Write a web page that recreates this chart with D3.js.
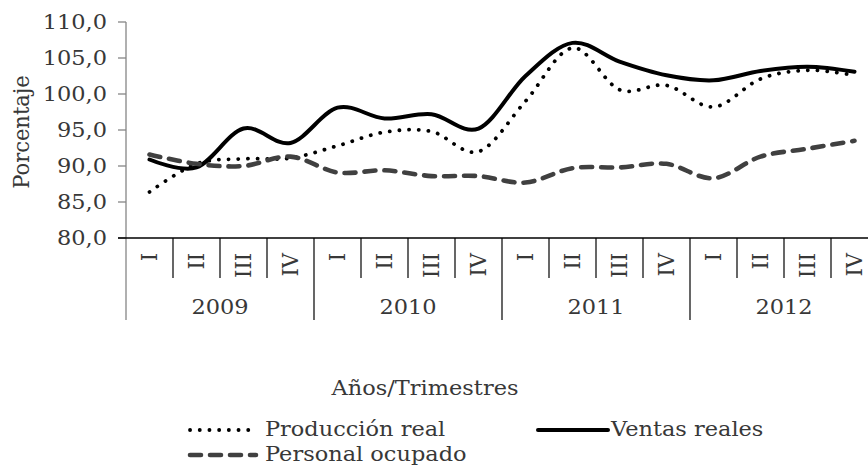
<!DOCTYPE html>
<html>
<head>
<meta charset="utf-8">
<script src="https://cdn.jsdelivr.net/npm/d3@7"></script>
<style>
  body { margin: 0; background: #fff; }
  text { font-family: "DejaVu Serif", serif; fill: #383838; }
</style>
</head>
<body>
<div id="chart"></div>
<script>
var years = ["2009", "2010", "2011", "2012"];
var quarters = ["I", "II", "III", "IV"];
var yTicks = [80, 85, 90, 95, 100, 105, 110];

var produccion = [86.4, 90.3, 91.0, 91.1, 92.8, 94.7, 94.8, 92.0, 99.0, 106.4, 100.6, 101.2, 98.2, 102.1, 103.3, 102.6];
var ventas     = [90.9, 89.8, 95.2, 93.2, 98.1, 96.6, 97.2, 95.2, 102.5, 107.1, 104.5, 102.6, 101.9, 103.2, 103.8, 103.1];
var personal   = [91.6, 90.3, 90.0, 91.3, 89.1, 89.4, 88.6, 88.6, 87.7, 89.7, 89.8, 90.3, 88.3, 91.3, 92.4, 93.5];

var series = [
    {name: "Producción real", values: produccion, color: "#000", width: 3.8, dash: "0.1 9.6"},
    {name: "Ventas reales", values: ventas, color: "#000", width: 4, dash: null},
    {name: "Personal ocupado", values: personal, color: "#404040", width: 4.6, dash: "11 9"}
];

var width = 868, height = 468;
var sx = 1.07; // text in the source is slightly wider than DejaVu Serif
var fs = 21;

var svg = d3.select("#chart").append("svg")
    .attr("width", width)
    .attr("height", height);

// one slot per year/quarter
var slots = [];
years.forEach(function(yr) {
    quarters.forEach(function(q) { slots.push(yr + "-" + q); });
});

var x = d3.scaleBand().domain(slots).range([126, 878]);
var xYear = d3.scaleBand().domain(years).range([126, 878]);
var y = d3.scaleLinear().domain([80, 110]).range([238, 22]);

function label(px, py, txt, anchor, rot) {
    return svg.append("text")
        .attr("transform", "translate(" + px + "," + py + ") scale(" + sx + ",1)" + (rot ? " rotate(-90)" : ""))
        .attr("text-anchor", anchor)
        .style("font-size", fs + "px")
        .text(txt);
}

// y axis
svg.append("line")
    .attr("x1", 126).attr("x2", 126)
    .attr("y1", y(110)).attr("y2", 320)
    .attr("stroke", "#868686").attr("stroke-width", 1.3);

yTicks.forEach(function(t) {
    svg.append("line")
        .attr("x1", 118).attr("x2", 126)
        .attr("y1", y(t)).attr("y2", y(t))
        .attr("stroke", "#868686").attr("stroke-width", 1.3);
    label(107, y(t), d3.format(".1f")(t).replace(".", ","), "end").attr("dy", "0.35em");
});

label(21, (y(110) + y(80)) / 2 + 2, "Porcentaje", "middle", true).attr("dy", "0.35em");

// x axis with two levels of categories
svg.append("line")
    .attr("x1", 118).attr("x2", 878)
    .attr("y1", y(80)).attr("y2", y(80))
    .attr("stroke", "#000").attr("stroke-width", 1.3);

slots.forEach(function(s, i) {
    var x0 = x(s);
    if (i % 4 != 0) {
        svg.append("line")
            .attr("x1", x0).attr("x2", x0)
            .attr("y1", y(80)).attr("y2", 278)
            .attr("stroke", "#000").attr("stroke-width", 1.2);
    }
    label(x0 + x.bandwidth() / 2, 253, quarters[i % 4], "end", true).attr("dy", "0.35em");
});

years.forEach(function(yr, i) {
    var x0 = xYear(yr);
    if (i > 0) {
        svg.append("line")
            .attr("x1", x0).attr("x2", x0)
            .attr("y1", y(80)).attr("y2", 320)
            .attr("stroke", "#000").attr("stroke-width", 1.2);
    }
    label(x0 + xYear.bandwidth() / 2, 314, yr, "middle");
});

label(425, 395, "Años/Trimestres", "middle");

// lines
var line = d3.line()
    .x(function(d, i) { return x(slots[i]) + x.bandwidth() / 2; })
    .y(function(d) { return y(d); })
    .curve(d3.curveCardinal.tension(0));

series.forEach(function(s) {
    svg.append("path")
        .datum(s.values)
        .attr("d", line)
        .attr("fill", "none")
        .attr("stroke", s.color)
        .attr("stroke-width", s.width)
        .attr("stroke-linecap", "round")
        .attr("stroke-dasharray", s.dash);
});

// legend
var legendPos = [[190, 430], [538, 430], [190, 455]];
series.forEach(function(s, i) {
    var p = legendPos[i];
    svg.append("line")
        .attr("x1", p[0]).attr("x2", p[0] + (i == 1 ? 70 : 66))
        .attr("y1", p[1]).attr("y2", p[1])
        .attr("stroke", s.color)
        .attr("stroke-width", s.width)
        .attr("stroke-linecap", "round")
        .attr("stroke-dasharray", s.dash);
    label(p[0] + (i == 1 ? 73 : 75), p[1], s.name, "start").attr("dy", "0.3em");
});
</script>
</body>
</html>
